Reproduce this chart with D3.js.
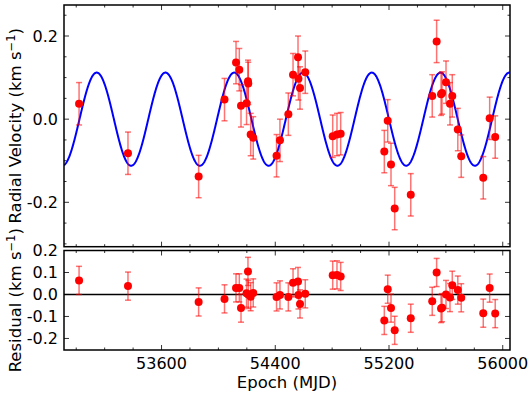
<!DOCTYPE html>
<html>
<head>
<meta charset="utf-8">
<script src="https://cdn.jsdelivr.net/npm/d3@7"></script>
<style>
body { margin: 0; background: #fff; }
text { font-family: "DejaVu Sans", sans-serif; fill: #000; }
</style>
</head>
<body>
<div id="vis"></div>
<script>
// datos
var epoch = [53020, 53364, 53861, 54043, 54124, 54147, 54159, 54198, 54208, 54210,
             54227, 54245, 54409, 54433, 54492, 54525, 54560, 54563, 54574, 54611,
             54804, 54834, 54860, 55167, 55191, 55214, 55240, 55353, 55504, 55535,
             55566, 55573, 55601, 55629, 55645, 55684, 55708, 55863, 55908, 55947];
var rv = [0.037, -0.082, -0.138, 0.047, 0.136, 0.119, 0.032, 0.038, 0.091, 0.086,
          -0.037, -0.045, -0.088, -0.051, 0.012, 0.107, 0.149, 0.097, 0.075, 0.113,
          -0.041, -0.037, -0.035, -0.078, -0.004, -0.109, -0.215, -0.182, 0.056, 0.187,
          0.060, 0.063, 0.089, 0.037, 0.056, -0.025, -0.089, -0.141, 0.002, -0.043];
var resid = [0.064, 0.038, -0.034, -0.020, 0.030, 0.030, -0.062, 0.006, 0.105, 0.000,
             -0.010, 0.007, -0.011, -0.002, -0.011, 0.053, 0.059, -0.002, -0.043, 0.003,
             0.088, 0.089, 0.082, -0.118, 0.024, -0.062, -0.163, -0.108, -0.031, 0.100,
             -0.064, -0.060, 0.000, -0.014, 0.042, 0.020, -0.015, -0.085, 0.029, -0.087];
var errRV = 0.051;
var errRes = 0.064;

// modelo orbital (sinusoide)
var modelPeriod = 483.7, modelPeak = 53144, modelK = 0.112;

var xTicks = [53600, 54400, 55200, 56000];
var rvTicks = [-0.2, 0.0, 0.2];
var resTicks = [-0.2, -0.1, 0.0, 0.1, 0.2];

var W = 532, H = 397;
var left = 64, right = 510;
var top1 = 5, bot1 = 246.7, top2 = 250.5, bot2 = 350;

var svg = d3.select("#vis").append("svg")
	.attr("width", W).attr("height", H);

var x = d3.scaleLinear().domain([52914, 56051]).range([left, right]);
var y1 = d3.scaleLinear().domain([-0.3068, 0.2746]).range([bot1, top1]);
var y2 = d3.scaleLinear().domain([-0.2525, 0.2]).range([bot2, top2]);

var fmt = d3.format(".1f");
function lab(d){ return fmt(d).replace("−", "-"); }

function panel(y, ty, tyMinor, yt, yb){
	var g = svg.append("g");
	var minorX = d3.range(52000, 56200, 200).filter(function(d){ return d >= x.domain()[0] && d <= x.domain()[1]; });
	// ticks hacia adentro en los 4 lados
	g.selectAll(".mx").data(minorX).enter().append("line")
		.attr("x1", d => x(d)).attr("x2", d => x(d))
		.attr("y1", yb).attr("y2", d => yb - (xTicks.indexOf(d) >= 0 ? 5 : 2.5))
		.attr("stroke", "#000").attr("stroke-width", 0.8);
	g.selectAll(".mx2").data(minorX).enter().append("line")
		.attr("x1", d => x(d)).attr("x2", d => x(d))
		.attr("y1", yt).attr("y2", d => yt + (xTicks.indexOf(d) >= 0 ? 5 : 2.5))
		.attr("stroke", "#000").attr("stroke-width", 0.8);
	var allY = tyMinor.concat(ty);
	g.selectAll(".my").data(allY).enter().append("line")
		.attr("x1", left).attr("x2", (d, i) => left + (i >= tyMinor.length ? 5 : 2.5))
		.attr("y1", d => y(d)).attr("y2", d => y(d))
		.attr("stroke", "#000").attr("stroke-width", 0.8);
	g.selectAll(".my2").data(allY).enter().append("line")
		.attr("x1", right).attr("x2", (d, i) => right - (i >= tyMinor.length ? 5 : 2.5))
		.attr("y1", d => y(d)).attr("y2", d => y(d))
		.attr("stroke", "#000").attr("stroke-width", 0.8);
	g.selectAll(".yl").data(ty).enter().append("text")
		.attr("x", left - 6).attr("y", d => y(d))
		.attr("dy", "0.36em").attr("text-anchor", "end")
		.style("font-size", "16px").text(lab);
	return g;
}

var rvMinor = d3.range(-0.30, 0.2751, 0.05).map(d => +d.toFixed(2)).filter(d => rvTicks.indexOf(d) < 0 && d >= -0.3068);
panel(y1, rvTicks, rvMinor, top1, bot1);
panel(y2, resTicks, [], top2, bot2);

// curva del modelo
var clip = svg.append("clipPath").attr("id", "c1").append("rect")
	.attr("x", left).attr("y", top1).attr("width", right - left).attr("height", bot1 - top1);
var curve = d3.range(x.domain()[0], x.domain()[1] + 2, 2).map(function(t){
	return [t, modelK * Math.cos(2 * Math.PI * (t - modelPeak) / modelPeriod)];
});
svg.append("path").datum(curve)
	.attr("clip-path", "url(#c1)")
	.attr("fill", "none").attr("stroke", "#0000ff").attr("stroke-width", 2)
	.attr("d", d3.line().x(d => x(d[0])).y(d => y1(d[1])));

// linea cero de residuos
svg.append("line").attr("x1", left).attr("x2", right)
	.attr("y1", y2(0)).attr("y2", y2(0))
	.attr("stroke", "#000").attr("stroke-width", 1.5);

function errorbars(y, vals, err){
	var g = svg.append("g");
	var pts = epoch.map((e, i) => ({e: e, v: vals[i]}));
	var eb = g.selectAll(".eb").data(pts).enter().append("g")
		.attr("stroke", "#ff0000").attr("stroke-opacity", 0.55).attr("stroke-width", 1.5);
	eb.append("line").attr("x1", d => x(d.e)).attr("x2", d => x(d.e))
		.attr("y1", d => y(d.v - err)).attr("y2", d => y(d.v + err));
	eb.append("line").attr("x1", d => x(d.e) - 3).attr("x2", d => x(d.e) + 3)
		.attr("y1", d => y(d.v - err)).attr("y2", d => y(d.v - err));
	eb.append("line").attr("x1", d => x(d.e) - 3).attr("x2", d => x(d.e) + 3)
		.attr("y1", d => y(d.v + err)).attr("y2", d => y(d.v + err));
	g.selectAll(".pt").data(pts).enter().append("circle")
		.attr("cx", d => x(d.e)).attr("cy", d => y(d.v)).attr("r", 4)
		.attr("fill", "#ff0000");
}
errorbars(y1, rv, errRV);
errorbars(y2, resid, errRes);

// marcos
[[top1, bot1], [top2, bot2]].forEach(function(p){
	svg.append("rect").attr("x", left).attr("y", p[0])
		.attr("width", right - left).attr("height", p[1] - p[0])
		.attr("fill", "none").attr("stroke", "#000").attr("stroke-width", 1.5);
});

// etiquetas de ticks x
svg.selectAll(".xl").data(xTicks).enter().append("text")
	.attr("x", d => x(d)).attr("y", bot2 + 18.5)
	.attr("text-anchor", "middle").style("font-size", "16px")
	.text(d => d);

svg.append("text").attr("x", (left + right) / 2).attr("y", 387.5)
	.attr("text-anchor", "middle").style("font-size", "16.5px")
	.text("Epoch (MJD)");

function ylabel(txt, cy){
	var t = svg.append("text")
		.attr("transform", "translate(21," + cy + ") rotate(-90)")
		.attr("text-anchor", "middle").style("font-size", "16.5px");
	t.append("tspan").text(txt + " (km s");
	t.append("tspan").attr("dy", -6).style("font-size", "11.5px").text("\u22121");
	t.append("tspan").attr("dy", 6).text(")");
}
ylabel("Radial Velocity", (top1 + bot1) / 2);
ylabel("Residual", (top2 + bot2) / 2);
</script>
</body>
</html>
